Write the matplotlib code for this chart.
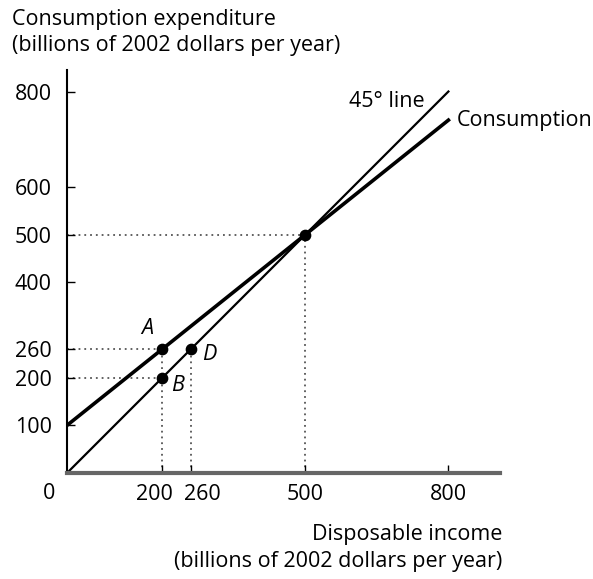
import numpy as np
import matplotlib.pyplot as plt
from matplotlib.transforms import ScaledTranslation

plt.rcParams['font.family'] = ['Open Sans', 'DejaVu Sans']

# disposable income and consumption (billions of 2002 dollars per year)
income_line = [0, 800]
consumption_line = [100, 740]
forty_five = [0, 800]

point_names = ['A', 'B', 'D', '']
point_x = [200, 200, 260, 500]
point_y = [260, 200, 260, 500]

x_ticks = [200, 260, 500, 800]
x_tick_labels = ['200', '260', '500', '800']
y_ticks = [100, 200, 260, 400, 500, 600, 800]

FS = 15.5

fig = plt.figure(figsize=(5.93, 5.79), dpi=100)
ax = fig.add_axes([0.113, 0.183, 0.730, 0.696])
ax.set_xlim(0, 908)
ax.set_ylim(0, 845)

# guide lines
dot = dict(color='#555555', lw=1.3, ls=(0, (1, 2.2)), zorder=1)
ax.plot([0, 200], [260, 260], **dot)
ax.plot([200, 200], [0, 260], **dot)
ax.plot([0, 200], [200, 200], **dot)
ax.plot([260, 260], [0, 260], **dot)
ax.plot([0, 500], [500, 500], **dot)
ax.plot([500, 500], [0, 500], **dot)

ax.plot(income_line, forty_five, color='black', lw=1.6, zorder=2)
ax.plot(income_line, consumption_line, color='black', lw=2.6, zorder=2)
ax.scatter(point_x, point_y, s=55, color='black', zorder=3)

offsets = {'A': (-11, 15), 'B': (11, -6), 'D': (13, -4)}
for name, x, y in zip(point_names, point_x, point_y):
    if name:
        dx, dy = offsets[name]
        ax.annotate(name, (x, y), xytext=(dx, dy), textcoords='offset points',
                    ha='center', va='center', style='italic', fontsize=FS)

ax.text(751, 780, '45° line', ha='right', va='center', fontsize=FS)
ax.text(818, 740, 'Consumption', ha='left', va='center', fontsize=FS)

for side in ['top', 'right']:
    ax.spines[side].set_visible(False)
ax.spines['left'].set_linewidth(1.5)
ax.spines['bottom'].set_linewidth(3)
ax.spines['bottom'].set_color('#666666')

ax.set_xticks(x_ticks)
ax.set_xticklabels(x_tick_labels)
ax.set_yticks(y_ticks)
ax.tick_params(direction='in', length=5.5, width=1, labelsize=FS)
ax.tick_params(axis='y', pad=11)
ax.tick_params(axis='x', pad=8)

# pull the crowded 200 / 260 labels apart
labels = ax.get_xticklabels()
labels[0].set_transform(labels[0].get_transform() + ScaledTranslation(-0.08, 0, fig.dpi_scale_trans))
labels[1].set_transform(labels[1].get_transform() + ScaledTranslation(0.11, 0, fig.dpi_scale_trans))

ax.text(-38, -42, '0', ha='center', va='center', fontsize=FS)
fig.text(0.02, 0.985, 'Consumption expenditure\n(billions of 2002 dollars per year)',
         ha='left', va='top', fontsize=FS, linespacing=1.35)
fig.text(0.847, 0.095, 'Disposable income\n(billions of 2002 dollars per year)',
         ha='right', va='top', fontsize=FS, linespacing=1.35, multialignment='right')

fig.savefig('out.png', dpi=100)
